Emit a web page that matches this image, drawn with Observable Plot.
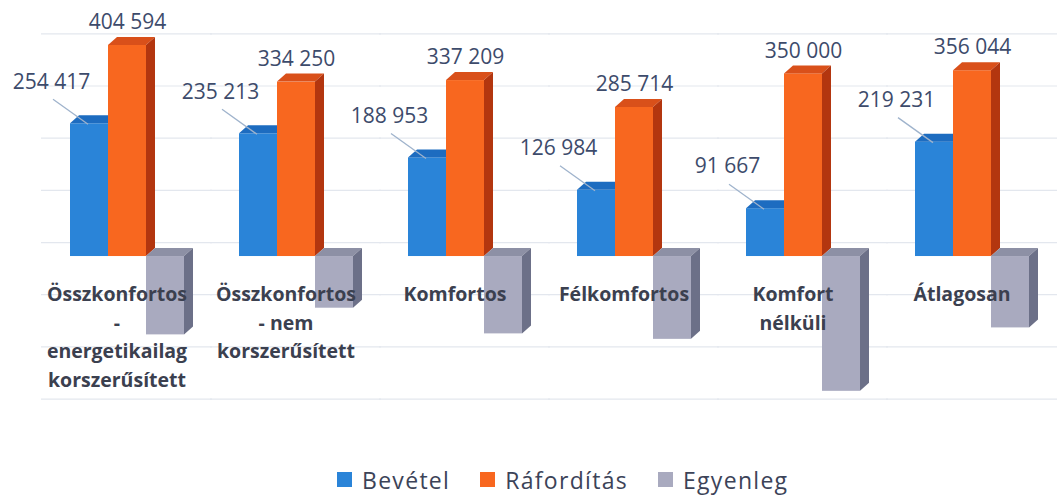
<!DOCTYPE html>
<html><head><meta charset="utf-8">
<script src="https://cdn.jsdelivr.net/npm/d3@7"></script>
<script src="https://cdn.jsdelivr.net/npm/@observablehq/plot@0.6"></script>
<style>
body{margin:0;background:#fff;width:1064px;height:496px;overflow:hidden;font-family:"Open Sans",sans-serif}
#chart svg{display:block}
#legend{display:flex;justify-content:flex-start;align-items:center;height:41px;padding-left:337px;padding-top:8px;box-sizing:border-box;font-size:23px;letter-spacing:1.3px;color:#3c4358}
.item{display:flex;align-items:center;margin-right:30px}
.sw{width:15px;height:15px;margin-right:10px}
</style></head><body><div id="chart"></div><div id="legend"></div>
<script>
const categories = ["Összkonfortos - energetikailag korszerűsített", "Összkonfortos - nem korszerűsített", "Komfortos", "Félkomfortos", "Komfort nélküli", "Átlagosan"];
const categoryLabels = ["Összkonfortos\n-\nenergetikailag\nkorszerűsített", "Összkonfortos\n- nem\nkorszerűsített", "Komfortos", "Félkomfortos", "Komfort\nnélküli", "Átlagosan"];
const seriesNames = ["Bevétel", "Ráfordítás", "Egyenleg"];
const bevetel = [254417, 235213, 188953, 126984, 91667, 219231];
const raforditas = [404594, 334250, 337209, 285714, 350000, 356044];
const egyenleg = [-150177, -99037, -148256, -158730, -258333, -136813];
const gridTicks = [-300000, -200000, -100000, 0, 100000, 200000, 300000, 400000];

const colors = {
  "Bevétel": {front: "#2a84d8", top: "#1d6cc0", side: "#1a5fa8"},
  "Ráfordítás": {front: "#f8671f", top: "#d9501a", side: "#b3360f"},
  "Egyenleg": {front: "#a9aabf", top: "#8d90a5", side: "#6c7088"}
};

const rows = categories.flatMap((c, i) => [
  {category: c, series: "Bevétel", value: bevetel[i]},
  {category: c, series: "Ráfordítás", value: raforditas[i]},
  {category: c, series: "Egyenleg", value: egyenleg[i]}
]);
const bevRows = rows.filter(d => d.series === "Bevétel");
const rafRows = rows.filter(d => d.series === "Ráfordítás");

const fmt = d3.formatLocale({decimal: ",", thousands: " ", grouping: [3], currency: ["", ""]}).format(",d");

const D = 9, H = 8;
const SVGNS = "http://www.w3.org/2000/svg";

function bar3d(index, scales, values, dims, context) {
  const doc = context.document;
  const g = d3.select(doc.createElementNS(SVGNS, "g"));
  const bw = scales.x.bandwidth();
  for (const i of index) {
    const c = colors[rows[i].series];
    const x0 = values.x[i], x1 = x0 + bw;
    const yt = Math.min(values.y1[i], values.y2[i]), yb = Math.max(values.y1[i], values.y2[i]);
    g.append("rect").attr("x", x0).attr("y", yt).attr("width", bw).attr("height", yb - yt).attr("fill", c.front);
    g.append("polygon").attr("points", [[x0, yt], [x0 + D, yt - H], [x1 + D, yt - H], [x1, yt]].join(" ")).attr("fill", c.top);
    g.append("polygon").attr("points", [[x1, yt], [x1 + D, yt - H], [x1 + D, yb - H], [x1, yb]].join(" ")).attr("fill", c.side);
  }
  return g.node();
}

function leader(index, scales, values, dims, context) {
  const doc = context.document;
  const g = d3.select(doc.createElementNS(SVGNS, "g"));
  const bx = scales.x.bandwidth() / 2;
  for (const i of index) {
    const cx = values.x[i] + bx, cy = values.y[i];
    g.append("line").attr("x1", cx - 36).attr("y1", cy - 24).attr("x2", cx - 1).attr("y2", cy + 1)
      .attr("stroke", "#9fb3cc").attr("stroke-width", 1.3);
  }
  return g.node();
}

const chart = Plot.plot({
  width: 1064,
  height: 455,
  marginLeft: 42,
  marginRight: 8,
  marginTop: 16,
  marginBottom: 32,
  style: {fontFamily: "'Open Sans', sans-serif", background: "white"},
  fx: {axis: null, domain: categories, paddingInner: 0.32, paddingOuter: 0.16},
  x: {axis: null, domain: seriesNames, padding: 0},
  y: {axis: null, domain: [-320000, 460000]},
  marks: [
    Plot.ruleY(gridTicks, {dy: -14, stroke: "#e3e7ee", strokeWidth: 1.2, insetLeft: -28, insetRight: -28}),
    Plot.barY(rows, {fx: "category", x: "series", y: "value", render: bar3d}),
    Plot.dot(bevRows, {fx: "category", x: "series", y: "value", render: leader}),
    Plot.text(bevRows, {fx: "category", x: "series", y: "value", text: d => fmt(d.value), dx: -38, dy: -42, fontSize: 21, fill: "#3d4b6b"}),
    Plot.text(rafRows, {fx: "category", x: "series", y: "value", text: d => fmt(d.value), dy: -23, fontSize: 21, fill: "#3d4b6b"}),
    Plot.text(categories, {fx: d => d, text: (d, i) => categoryLabels[i], frameAnchor: "top", lineAnchor: "top", dy: 264, dx: -10, fontSize: 19.5, fontWeight: "bold", lineHeight: 1.47, fill: "#3b404f"})
  ]
});
document.getElementById("chart").appendChild(chart);

const legend = document.getElementById("legend");
for (const s of seriesNames) {
  const item = document.createElement("div");
  item.className = "item";
  const sw = document.createElement("span");
  sw.className = "sw";
  sw.style.background = colors[s].front;
  const t = document.createElement("span");
  t.textContent = s;
  item.appendChild(sw); item.appendChild(t);
  legend.appendChild(item);
}
</script></body></html>
